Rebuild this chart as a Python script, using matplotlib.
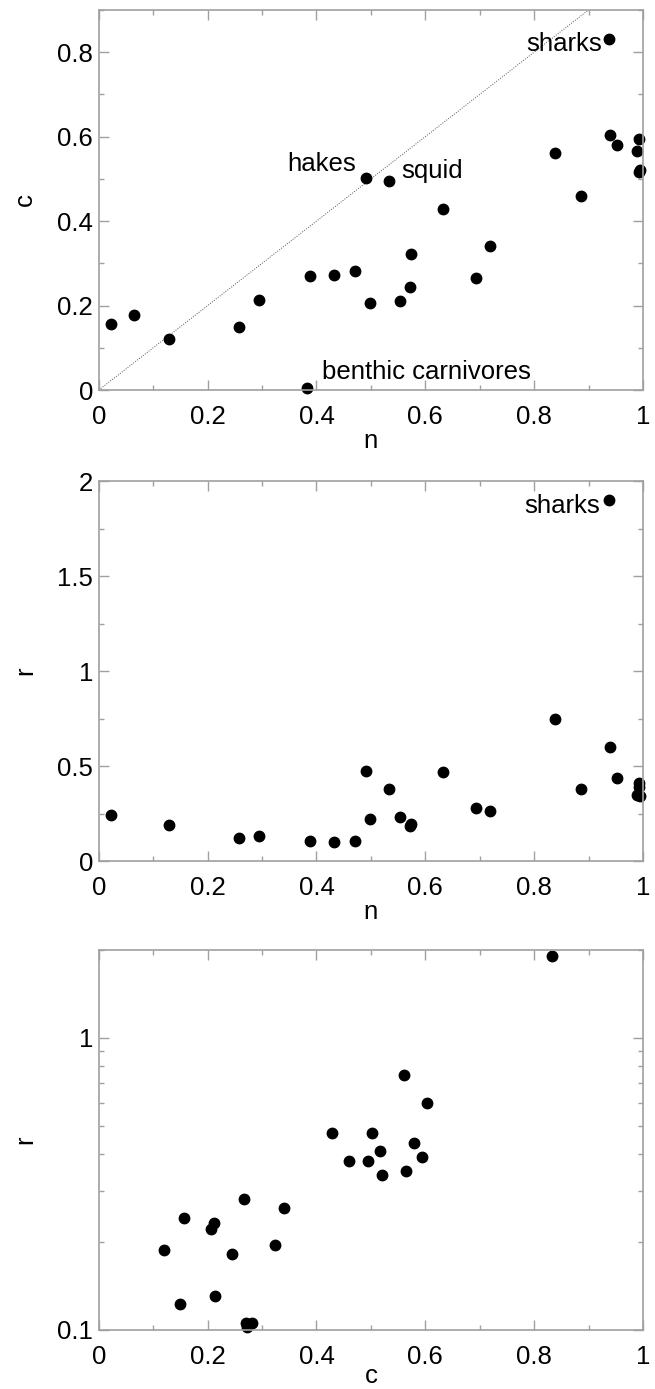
import numpy as np
import matplotlib
matplotlib.use("Agg")
import matplotlib.pyplot as plt
from matplotlib.ticker import MultipleLocator, FixedLocator, LogLocator, FuncFormatter, NullFormatter

plt.rcParams['font.family'] = ['Liberation Sans', 'DejaVu Sans']

# one entry per species group: n, c and r (nan where r was not plotted)
n_vals = [0.022, 0.064, 0.129, 0.257, 0.294, 0.383, 0.389, 0.432, 0.470, 0.491,
          0.499, 0.533, 0.553, 0.572, 0.574, 0.632, 0.694, 0.719, 0.839, 0.886,
          0.938, 0.940, 0.953, 0.989, 0.993, 0.993, 0.994]
c_vals = [0.156, 0.177, 0.120, 0.150, 0.214, 0.005, 0.271, 0.272, 0.281, 0.502,
          0.207, 0.494, 0.211, 0.244, 0.323, 0.428, 0.266, 0.340, 0.561, 0.459,
          0.832, 0.603, 0.580, 0.565, 0.594, 0.516, 0.521]
r_vals = [0.242, np.nan, 0.188, 0.123, 0.131, np.nan, 0.106, 0.102, 0.106, 0.473,
          0.222, 0.378, 0.233, 0.182, 0.196, 0.471, 0.280, 0.261, 0.749, 0.380,
          1.90, 0.600, 0.437, 0.349, 0.390, 0.411, 0.340]

# labelled points: name -> index into the lists above
names_top = {"sharks": 20, "hakes": 9, "squid": 11, "benthic carnivores": 5}
names_mid = {"sharks": 20}

n_vals = np.array(n_vals)
c_vals = np.array(c_vals)
r_vals = np.array(r_vals)

FS = 18.5
GREY = "#a0a0a0"
MS = 7.5

fig = plt.figure(figsize=(6.55, 13.89), dpi=100)
ax1 = fig.add_axes([0.1508, 0.7192, 0.8308, 0.2736])
ax2 = fig.add_axes([0.1508, 0.3801, 0.8308, 0.2736])
ax3 = fig.add_axes([0.1508, 0.0425, 0.8308, 0.2736])

fmt = FuncFormatter(lambda v, p: "%g" % v)


def style(ax):
    for s in ax.spines.values():
        s.set_color(GREY)
        s.set_linewidth(1.2)
    ax.tick_params(which="both", direction="in", top=True, right=True,
                   color=GREY, width=1.0, labelsize=FS)
    ax.tick_params(which="major", length=7)
    ax.tick_params(which="minor", length=3.5)
    ax.tick_params(axis="x", which="both", pad=11)
    ax.tick_params(axis="y", which="both", pad=4)
    ax.set_xlim(0, 1)
    ax.xaxis.set_major_locator(MultipleLocator(0.2))
    ax.xaxis.set_minor_locator(MultipleLocator(0.1))
    ax.xaxis.set_major_formatter(fmt)


def labels(ax, xl, yl, xl_off=51):
    ax.set_xlabel(xl, fontsize=FS)
    ax.set_ylabel(yl, fontsize=FS)
    ax.xaxis.set_label_coords(0.5, -xl_off / 380)
    ax.xaxis.label.set_va("center")
    ax.yaxis.set_label_coords(-74 / 545, 0.5)
    ax.yaxis.label.set_va("center")


# panel 1: c vs n
style(ax1)
ax1.set_ylim(0, 0.9)
ax1.yaxis.set_major_locator(MultipleLocator(0.2))
ax1.yaxis.set_minor_locator(MultipleLocator(0.1))
ax1.yaxis.set_major_formatter(fmt)
ax1.axline((0, 0), slope=1, color="#555555", lw=0.7, ls=(0, (1, 1.5)))
ax1.plot(n_vals, c_vals, "o", color="black", ms=MS, clip_on=False)
offsets_top = {"sharks": (-7, -12, "right"), "hakes": (-10, 7, "right"),
               "squid": (12, 3, "left"), "benthic carnivores": (15, 9, "left")}
for name, i in names_top.items():
    dx, dy, ha = offsets_top[name]
    ax1.annotate(name, (n_vals[i], c_vals[i]), xytext=(dx, dy),
                 textcoords="offset pixels", ha=ha, va="baseline", fontsize=FS)
labels(ax1, "n", "c")

# panel 2: r vs n
style(ax2)
ax2.set_ylim(0, 2)
ax2.yaxis.set_major_locator(MultipleLocator(0.5))
ax2.yaxis.set_minor_locator(MultipleLocator(0.25))
ax2.yaxis.set_major_formatter(fmt)
ax2.plot(n_vals, r_vals, "o", color="black", ms=MS, clip_on=False)
for name, i in names_mid.items():
    ax2.annotate(name, (n_vals[i], r_vals[i]), xytext=(-9, -13),
                 textcoords="offset pixels", ha="right", va="baseline", fontsize=FS)
labels(ax2, "n", "r")

# panel 3: r vs c, log scale
style(ax3)
ax3.set_yscale("log")
ax3.set_ylim(0.1, 2)
ax3.yaxis.set_major_locator(FixedLocator([0.1, 1]))
ax3.yaxis.set_minor_locator(LogLocator(base=10, subs=np.arange(2, 10)))
ax3.yaxis.set_major_formatter(fmt)
ax3.yaxis.set_minor_formatter(NullFormatter())
ax3.plot(c_vals, r_vals, "o", color="black", ms=MS, clip_on=False)
labels(ax3, "c", "r", xl_off=46)

fig.savefig("out.png", dpi=100)
